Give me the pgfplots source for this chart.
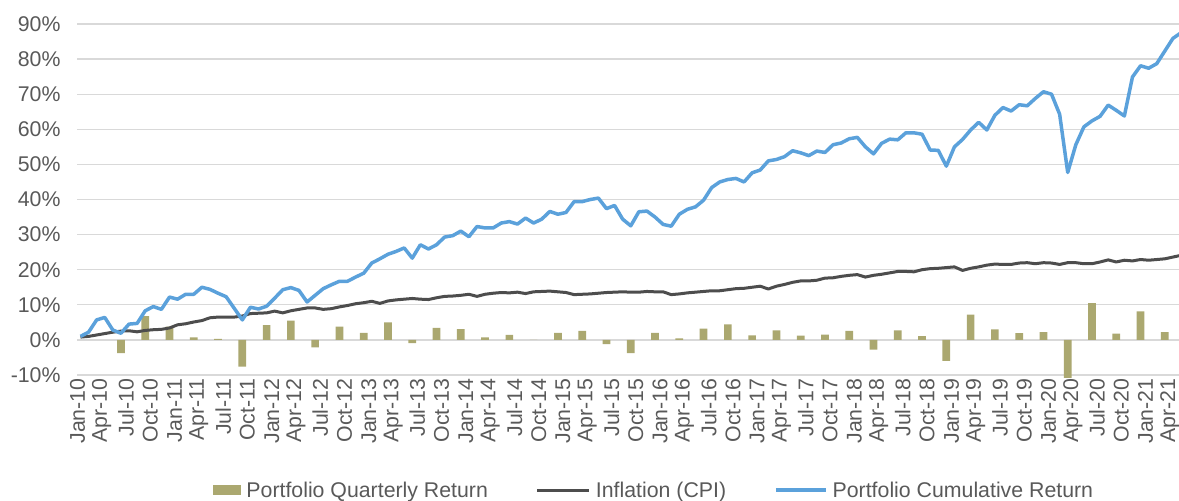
\documentclass[border=0pt]{standalone}
\usepackage{fontspec}
\setmainfont{Liberation Sans}
\usepackage{pgfplots}
\usepackage{pgfplotstable}
\pgfplotsset{compat=1.18}
\definecolor{cblue}{RGB}{91,161,219}
\definecolor{ccpi}{RGB}{77,77,77}
\definecolor{cbar}{RGB}{171,168,112}
\definecolor{cgrid}{RGB}{217,217,217}
\definecolor{ctext}{RGB}{89,89,89}

\pgfplotstableread{
i cum cpi
0 1.0 0.8
1 2.2 1.0
2 5.7 1.4
3 6.4 1.8
4 2.8 2.2
5 1.9 2.5
6 4.5 2.6
7 4.7 2.3
8 8.3 2.7
9 9.5 2.9
10 8.7 3.0
11 12.2 3.4
12 11.6 4.3
13 13.0 4.6
14 13.0 5.1
15 15.0 5.5
16 14.4 6.3
17 13.3 6.5
18 12.3 6.5
19 9.0 6.5
20 5.7 6.8
21 9.3 7.5
22 8.8 7.6
23 9.6 7.7
24 11.9 8.2
25 14.3 7.7
26 14.9 8.3
27 14.1 8.7
28 10.8 9.1
29 12.7 9.1
30 14.6 8.7
31 15.7 8.9
32 16.7 9.4
33 16.7 9.8
34 17.9 10.3
35 19.0 10.6
36 21.9 11.0
37 23.1 10.4
38 24.4 11.1
39 25.2 11.4
40 26.2 11.6
41 23.3 11.8
42 27.1 11.6
43 25.9 11.5
44 27.1 12.0
45 29.3 12.4
46 29.7 12.5
47 31.0 12.7
48 29.4 13.0
49 32.3 12.4
50 31.9 13.0
51 31.9 13.3
52 33.3 13.5
53 33.7 13.4
54 33.0 13.6
55 34.7 13.2
56 33.3 13.7
57 34.4 13.8
58 36.6 13.9
59 35.8 13.7
60 36.3 13.5
61 39.4 12.9
62 39.4 13.0
63 40.0 13.1
64 40.4 13.3
65 37.4 13.5
66 38.3 13.6
67 34.4 13.7
68 32.5 13.6
69 36.5 13.6
70 36.7 13.8
71 35.0 13.7
72 32.9 13.7
73 32.4 12.9
74 35.8 13.1
75 37.2 13.4
76 37.9 13.6
77 39.8 13.8
78 43.4 14.0
79 45.0 14.0
80 45.7 14.3
81 46.0 14.6
82 45.0 14.7
83 47.6 15.0
84 48.4 15.3
85 51.0 14.5
86 51.4 15.3
87 52.2 15.8
88 53.9 16.4
89 53.3 16.8
90 52.5 16.8
91 53.8 17.0
92 53.4 17.6
93 55.6 17.7
94 56.1 18.1
95 57.3 18.4
96 57.7 18.6
97 55.0 17.9
98 53.0 18.4
99 56.0 18.7
100 57.2 19.1
101 57.0 19.5
102 59.0 19.5
103 59.0 19.4
104 58.6 20.0
105 54.1 20.3
106 54.0 20.4
107 49.5 20.6
108 55.0 20.8
109 57.1 19.8
110 59.8 20.4
111 62.0 20.8
112 59.8 21.3
113 64.0 21.6
114 66.2 21.5
115 65.2 21.5
116 67.0 21.9
117 66.7 22.0
118 68.8 21.7
119 70.7 22.0
120 70.0 21.9
121 64.3 21.5
122 47.7 22.0
123 55.6 22.0
124 60.7 21.7
125 62.4 21.7
126 63.7 22.2
127 66.9 22.8
128 65.4 22.2
129 63.8 22.7
130 74.9 22.5
131 78.1 22.9
132 77.4 22.7
133 78.7 22.9
134 82.3 23.1
135 85.9 23.6
136 87.5 24.1
}\monthly

\pgfplotstableread{
i r
5 -3.8
8 6.8
11 3.8
14 0.7
17 0.3
20 -7.6
23 4.2
26 5.5
29 -2.1
32 3.8
35 2.0
38 5.0
41 -0.9
44 3.4
47 3.1
50 0.7
53 1.4
56 0.0
59 2.0
62 2.6
65 -1.2
68 -3.8
71 2.0
74 0.4
77 3.2
80 4.4
83 1.3
86 2.7
89 1.2
92 1.5
95 2.6
98 -2.8
101 2.7
104 1.1
107 -6.0
110 7.2
113 3.0
116 1.9
119 2.2
122 -10.8
125 10.5
128 1.8
131 8.1
134 2.2
}\bars

\begin{document}
\begin{tikzpicture}
\useasboundingbox (0bp,0bp) rectangle (1179bp,501bp);
\begin{axis}[
  at={(77bp,126bp)}, anchor=south west,
  scale only axis, width=1104bp, height=351bp,
  xmin=-0.43, xmax=136, ymin=-10, ymax=90,
  clip=false,
  axis line style={draw=none},
  major tick length=0pt,
  ymajorgrids, grid style={color=cgrid, line width=1.3bp},
  ytick={-10,0,...,90},
  yticklabels={-10\%,0\%,10\%,20\%,30\%,40\%,50\%,60\%,70\%,80\%,90\%},
  xtick={0,3,...,135},
  xticklabels={Jan-10,Apr-10,Jul-10,Oct-10,Jan-11,Apr-11,Jul-11,Oct-11,Jan-12,Apr-12,Jul-12,Oct-12,Jan-13,Apr-13,Jul-13,Oct-13,Jan-14,Apr-14,Jul-14,Oct-14,Jan-15,Apr-15,Jul-15,Oct-15,Jan-16,Apr-16,Jul-16,Oct-16,Jan-17,Apr-17,Jul-17,Oct-17,Jan-18,Apr-18,Jul-18,Oct-18,Jan-19,Apr-19,Jul-19,Oct-19,Jan-20,Apr-20,Jul-20,Oct-20,Jan-21,Apr-21},
  tick label style={font=\fontsize{21.3bp}{25bp}\selectfont, text=ctext},
  yticklabel style={anchor=east, xshift=-13bp},
  xticklabel style={xshift=-3bp, rotate=90, anchor=east, inner ysep=0pt},
  legend columns=3,
  legend style={draw=none, fill=none, at={(0.522,-0.328)}, anchor=center,
    font=\fontsize{21.3bp}{25bp}\selectfont, text=ctext,
    nodes={inner sep=0pt},
    /tikz/every odd column/.append style={column sep=5bp},
    /tikz/every even column/.append style={column sep=48bp}},
]
\addplot[ybar, bar width=0.95, fill=cbar, draw=none,
  legend image code/.code={\fill[cbar] (0bp,-5bp) rectangle (28bp,5bp);}]
  table[x=i, y=r] {\bars};
\addlegendentry{Portfolio Quarterly Return}
\addplot[ccpi, line width=3bp, line join=round, no marks,
  legend image code/.code={\draw[ccpi, line width=3bp] (0bp,0bp) -- (52bp,0bp);}]
  table[x=i, y=cpi] {\monthly};
\addlegendentry{Inflation (CPI)}
\addplot[cblue, line width=3.5bp, line join=round, no marks,
  legend image code/.code={\draw[cblue, line width=3.5bp] (0bp,0bp) -- (50bp,0bp);}]
  table[x=i, y=cum] {\monthly};
\addlegendentry{Portfolio Cumulative Return}
\end{axis}
\end{tikzpicture}
\end{document}
